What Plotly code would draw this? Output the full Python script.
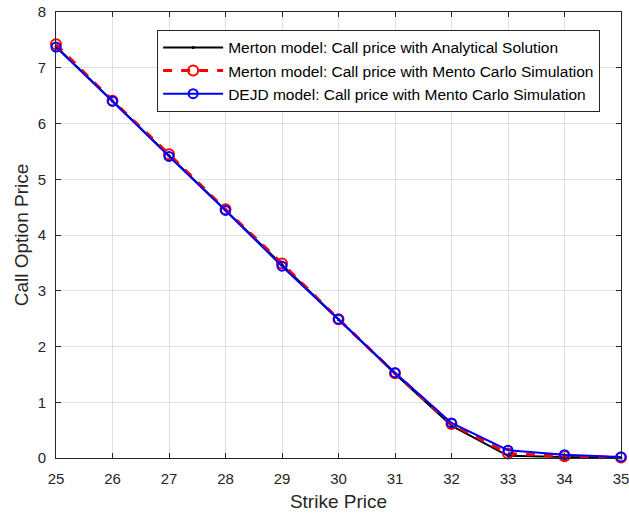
import plotly.graph_objects as go

strike = [25, 26, 27, 28, 29, 30, 31, 32, 33, 34, 35]
merton_analytical = [7.38, 6.40, 5.42, 4.45, 3.47, 2.48, 1.51, 0.58, 0.04, 0.02, 0.00]
merton_mc = [7.42, 6.41, 5.45, 4.46, 3.49, 2.49, 1.52, 0.61, 0.08, 0.03, 0.01]
dejd_mc = [7.37, 6.40, 5.41, 4.44, 3.44, 2.49, 1.53, 0.63, 0.14, 0.06, 0.02]

fig = go.Figure()
fig.add_trace(go.Scatter(x=strike, y=merton_analytical, mode="lines+markers",
                         name="Merton model: Call price with Analytical Solution",
                         line=dict(color="black", width=2), cliponaxis=False,
                         marker=dict(color="black", size=3)))
fig.add_trace(go.Scatter(x=strike, y=merton_mc, mode="lines+markers",
                         name="Merton model: Call price with Mento Carlo Simulation",
                         line=dict(color="red", width=3, dash="dash"), cliponaxis=False,
                         marker=dict(symbol="circle-open", color="red", size=10, line=dict(width=2))))
fig.add_trace(go.Scatter(x=strike, y=dejd_mc, mode="lines+markers",
                         name="DEJD model: Call price with Mento Carlo Simulation",
                         line=dict(color="blue", width=2), cliponaxis=False,
                         marker=dict(symbol="circle-open", color="blue", size=9, line=dict(width=2))))

axis_common = dict(showgrid=True, gridcolor="#dfdfdf", gridwidth=1, zeroline=False,
                   showline=True, linecolor="#262626", linewidth=1, mirror="ticks",
                   ticks="inside", ticklen=5, tickcolor="#262626", automargin=False,
                   ticklabeloverflow="allow",
                   tickfont=dict(family="Liberation Sans, Arial", size=15, color="#262626"))

fig.update_layout(
    width=629, height=517,
    margin=dict(l=56, r=8, t=12, b=59),
    paper_bgcolor="white", plot_bgcolor="white",
    font=dict(family="Liberation Sans, Arial", color="#262626"),
    xaxis=dict(range=[25, 35], dtick=1, ticklabelstandoff=7,
               title=dict(text="Strike Price", font=dict(size=19), standoff=8), **axis_common),
    yaxis=dict(range=[0, 8], dtick=1, ticklabelstandoff=6,
               title=dict(text="Call Option Price", font=dict(size=19), standoff=4), **axis_common),
    legend=dict(x=0.179, y=0.96, xanchor="left", yanchor="top",
                bgcolor="white", bordercolor="#262626", borderwidth=1,
                font=dict(size=15.5, color="black"), tracegroupgap=0, itemwidth=60),
    showlegend=True,
)

fig.write_html("out.html", config={"displayModeBar": False},
               post_script="document.body.style.margin='0';")
